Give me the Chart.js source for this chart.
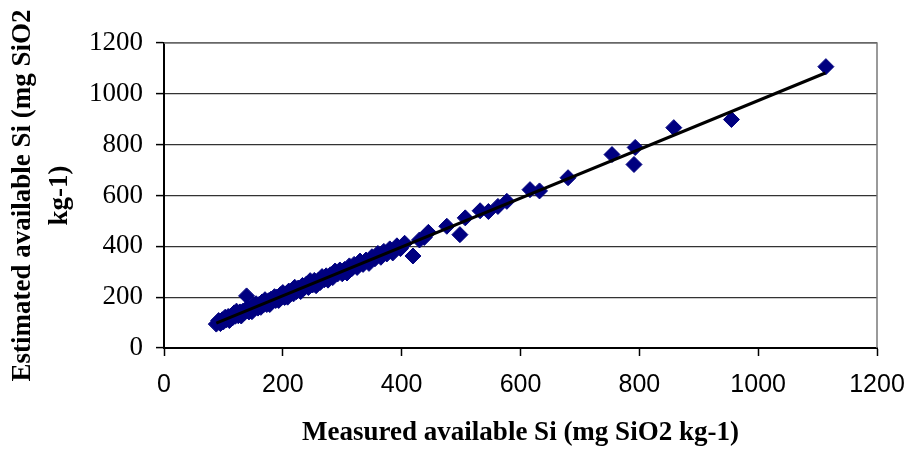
<!DOCTYPE html>
<html>
<head>
<meta charset="utf-8">
<title>Measured vs estimated available Si</title>
<script src="https://cdn.jsdelivr.net/npm/chart.js@4.4.1/dist/chart.umd.min.js"></script>
<style>
  html, body { margin: 0; padding: 0; background: #fff; }
  #siChart { display: block; }
</style>
</head>
<body>
<canvas id="siChart" width="909" height="449"></canvas>
<script>
// ── Data ────────────────────────────────────────────────────
const measuredSi = [
    88, 92, 95, 98, 100, 103, 105, 108, 110, 112, 115, 118, 120, 122, 125, 128, 130, 133, 135, 139,
    140, 143, 146, 148, 150, 153, 155, 158, 160, 163, 165, 168, 170, 173, 176, 178, 180, 183, 186, 188,
    190, 193, 196, 198, 200, 203, 206, 208, 210, 213, 216, 218, 220, 223, 226, 230, 233, 236, 240, 243,
    246, 250, 253, 256, 260, 263, 266, 270, 273, 276, 280, 284, 288, 292, 296, 300, 304, 308, 312, 316,
    320, 325, 330, 335, 340, 345, 350, 355, 360, 365, 370, 375, 380, 385, 392, 398, 405, 419, 430, 438,
    445, 476, 498, 507, 532, 546, 562, 577, 616, 632, 680, 754, 791, 793, 858, 955, 1114
];
const estimatedSi = [
    94, 108, 96, 111, 103, 121, 111, 124, 108, 125, 118, 138, 125, 145, 127, 142, 126, 145, 138, 205,
    157, 142, 157, 143, 166, 157, 174, 157, 171, 160, 181, 171, 190, 171, 186, 171, 192, 186, 202, 187,
    200, 187, 210, 200, 218, 199, 214, 200, 224, 213, 227, 213, 239, 222, 236, 222, 246, 237, 252, 238,
    265, 248, 266, 245, 267, 258, 281, 269, 284, 267, 288, 277, 303, 291, 307, 292, 309, 295, 323, 312,
    329, 317, 342, 329, 346, 333, 359, 351, 372, 357, 380, 370, 390, 374, 402, 391, 412, 362, 425, 435,
    455, 479, 446, 512, 540, 537, 557, 577, 623, 618, 670, 761, 722, 789, 867, 899, 1107
];

// regression line end points
const fitX = [88, 1113];
const fitY = [98, 1082];

const axisMin  = 0;
const axisMax  = 1200;
const axisStep = 200;

const xTitle = 'Measured available Si (mg SiO2 kg-1)';
const yTitle = ['Estimated available Si (mg SiO2', 'kg-1)'];

// ── Build point lists ───────────────────────────────────────
const scatterPoints = measuredSi.map((x, i) => ({ x: x, y: estimatedSi[i] }));
const fitPoints     = fitX.map((x, i) => ({ x: x, y: fitY[i] }));

// plain tick numbers, no thousands separator
const plainTick = v => String(v);

// gray frame on top/right of the plot area
const frameBox = {
    id: 'frameBox',
    beforeDatasetsDraw(chart) {
        const { ctx, chartArea: a } = chart;
        ctx.save();
        ctx.strokeStyle = '#7a7a7a';
        ctx.lineWidth   = 1.5;
        ctx.beginPath();
        ctx.moveTo(a.left, a.top);
        ctx.lineTo(a.right, a.top);
        ctx.lineTo(a.right, a.bottom);
        ctx.stroke();
        ctx.restore();
    }
};

new Chart(document.getElementById('siChart'), {
    type: 'scatter',
    data: {
        datasets: [
            {
                type:        'line',
                label:       'Fit',
                data:        fitPoints,
                borderColor: '#000',
                borderWidth: 3,
                pointRadius: 0,
                fill:        false,
                order:       0,
            },
            {
                label:           'Samples',
                data:            scatterPoints,
                pointStyle:      'rectRot',
                pointRadius:     8,
                backgroundColor: '#000080',
                borderColor:     '#000080',
                borderWidth:     1,
                order:           1,
            }
        ]
    },
    options: {
        responsive:       false,
        animation:        false,
        devicePixelRatio: 1,
        layout: { padding: { top: 43, right: 32, left: 0, bottom: 0 } },
        plugins: {
            legend:  { display: false },
            tooltip: { enabled: false }
        },
        scales: {
            x: {
                type: 'linear',
                min: axisMin, max: axisMax,
                afterFit: s => { s.height = 101; s.paddingLeft = 0; s.paddingRight = 0; },
                border: { color: '#000', width: 2 },
                grid: {
                    drawOnChartArea: false,
                    drawTicks:       true,
                    tickLength:      8,
                    tickColor:       '#000',
                    tickWidth:       1.5,
                },
                ticks: {
                    stepSize: axisStep,
                    padding:  14,
                    color:    '#000',
                    maxRotation: 0,
                    callback: plainTick,
                    font: { family: "'Liberation Sans', Arial, sans-serif", size: 25 }
                },
                title: {
                    display: true,
                    text:    xTitle,
                    color:   '#000',
                    padding: { top: 0, bottom: 0 },
                    font: { family: "'Liberation Serif', 'Times New Roman', serif", size: 27, weight: 'bold', lineHeight: 1.2 }
                }
            },
            y: {
                type: 'linear',
                min: axisMin, max: axisMax,
                afterFit: s => { s.width = 164; s.paddingTop = 0; s.paddingBottom = 0; },
                border: { color: '#000', width: 2 },
                grid: {
                    color:      '#333',
                    lineWidth:  1.2,
                    drawTicks:  true,
                    tickLength: 8,
                    tickColor:  '#000',
                    tickWidth:  1.5,
                },
                ticks: {
                    stepSize: axisStep,
                    padding:  13,
                    color:    '#000',
                    callback: plainTick,
                    font: { family: "'Liberation Serif', 'Times New Roman', serif", size: 27 }
                },
                title: {
                    display: true,
                    text:    yTitle,
                    color:   '#000',
                    padding: { top: 5, bottom: 0 },
                    font: { family: "'Liberation Serif', 'Times New Roman', serif", size: 27, weight: 'bold', lineHeight: 1.35 }
                }
            }
        }
    },
    plugins: [frameBox]
});
</script>
</body>
</html>
